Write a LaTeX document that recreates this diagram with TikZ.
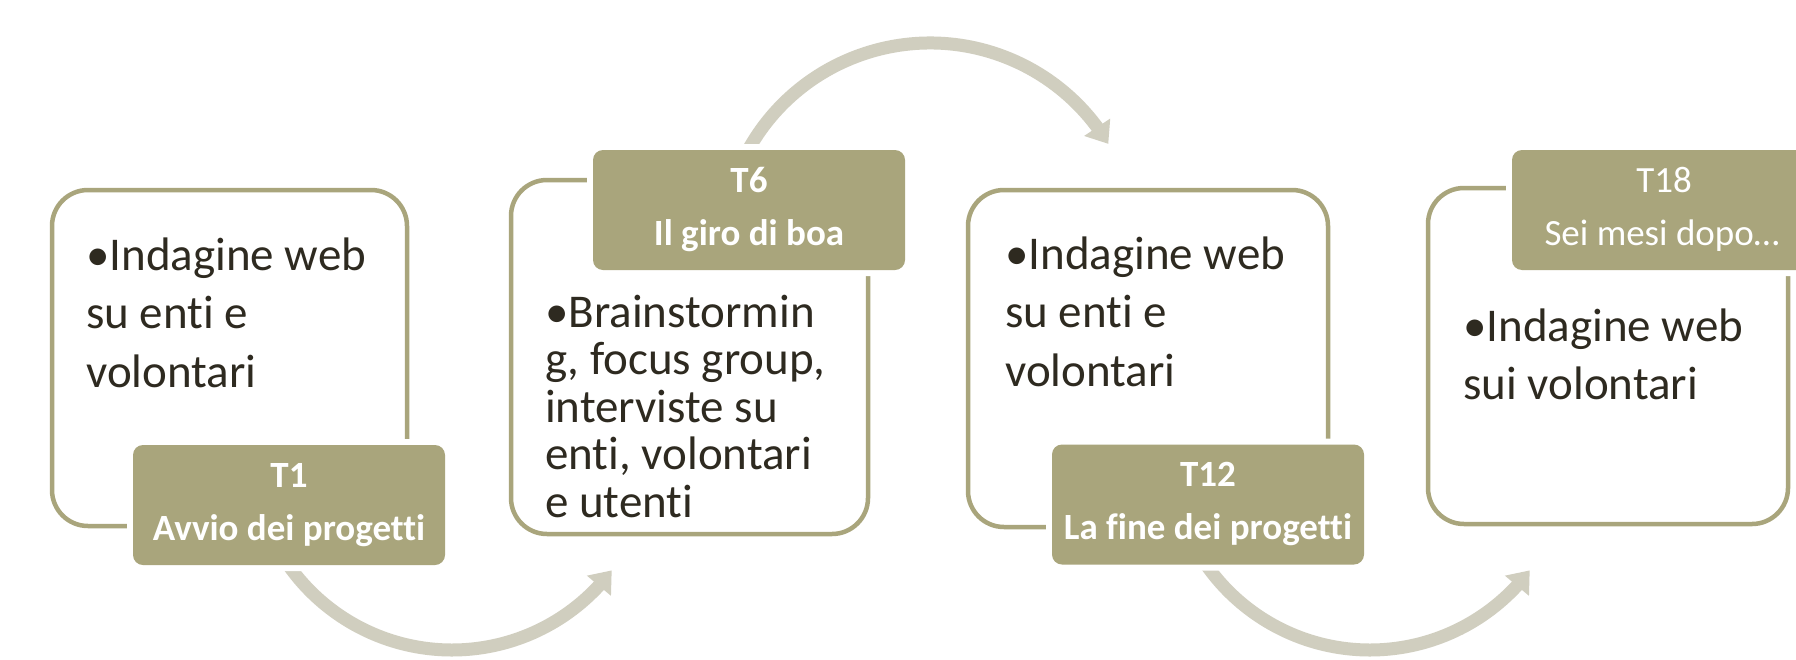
\documentclass[tikz,border=0pt]{standalone}
\usepackage{fontspec}
\setmainfont{Carlito}[Ligatures={NoCommon,NoContextual}]
\usetikzlibrary{arrows.meta,bending}
\definecolor{olive}{RGB}{169,165,124}
\definecolor{arccol}{RGB}{208,206,191}
\definecolor{txt}{RGB}{46,42,32}
\begin{document}
\begin{tikzpicture}[x=1pt,y=1pt,
  bigbox/.style={draw=olive, line width=4.5pt, rounded corners=36pt, inner sep=0pt, outer sep=0pt},
  lbl/.style={fill=olive, rounded corners=10pt, minimum width=312pt, minimum height=120pt,
              inner sep=0pt, outer sep=0pt, preaction={draw=white, line width=12pt}},
  lbltxt/.style={text=white, font=\fontsize{37}{43}\selectfont\bfseries, anchor=base, inner sep=0pt},
  lbltxtr/.style={text=white, font=\fontsize{37}{43}\selectfont, anchor=base, inner sep=0pt},
  body/.style={text=txt, anchor=base west, inner sep=0pt, font=\fontsize{47}{58.5}\selectfont},
  bodytight/.style={text=txt, anchor=base west, inner sep=0pt, font=\fontsize{47}{47.5}\selectfont},
  flow/.style={draw=arccol, line width=13pt, -{Triangle[length=20pt,width=30pt]}}
]
\useasboundingbox (0,0) rectangle (1796,-659);
\clip (0,0) rectangle (1796,-659);
\fill[white] (0,0) rectangle (1796,-659);

% arc centres
\coordinate (c1) at (452,-450);
\coordinate (c2) at (930,-251);
\coordinate (c3) at (1370,-450);

% connectors (drawn first, labels overlap their start)
\draw[flow] ([shift={(-150:200)}]c1) arc[start angle=-150, end angle=-37, radius=200];
\draw[flow] ([shift={(153:208)}]c2) arc[start angle=153, end angle=31, radius=208];
\draw[flow] ([shift={(-150:200)}]c3) arc[start angle=-150, end angle=-37, radius=200];

% boxes
\node[bigbox, minimum width=355pt, minimum height=336pt] (B1) at (229.5,-358) {};
\node[bigbox, minimum width=357pt, minimum height=354pt] (B2) at (689.5,-357) {};
\node[bigbox, minimum width=360pt, minimum height=337pt] (B3) at (1148,-358.5) {};
\node[bigbox, minimum width=360pt, minimum height=336pt] (B4) at (1608,-356) {};

% labels
\node[lbl] (L1) at (289,-505) {};
\node[lbl] (L2) at (749,-210) {};
\node[lbl] (L3) at (1208,-504.5) {};
\node[lbl] (L4) at (1668,-210) {};

\node[lbltxt] (L1a) at ([yshift=-42pt]L1.north) {T1};
\node[lbltxt] (L1b) at ([yshift=-95pt]L1.north) {Avvio dei progetti};
\node[lbltxt] (L2a) at ([yshift=-42pt]L2.north) {T6};
\node[lbltxt] (L2b) at ([yshift=-95pt]L2.north) {Il giro di boa};
\node[lbltxt] (L3a) at ([yshift=-42pt]L3.north) {T12};
\node[lbltxt] (L3b) at ([yshift=-95pt]L3.north) {La fine dei progetti};
\node[lbltxtr] (L4a) at ([xshift=-4pt,yshift=-42pt]L4.north) {T18};
\node[lbltxtr] (L4b) at ([xshift=-6pt,yshift=-95pt]L4.north) {Sei mesi dopo…};

% body texts
\node[body] (T1) at ([xshift=34pt,yshift=-80pt]B1.north west)
  {\parbox[t]{330pt}{\raggedright •Indagine web\\su enti e\\volontari}};
\node[bodytight] (T2) at ([xshift=34pt,yshift=-147pt]B2.north west)
  {\parbox[t]{330pt}{\raggedright •Brainstormin\\g, focus group,\\interviste su\\enti, volontari\\e utenti}};
\node[body] (T3) at ([xshift=37pt,yshift=-79pt]B3.north west)
  {\parbox[t]{330pt}{\raggedright •Indagine web\\su enti e\\volontari}};
\node[body] (T4) at ([xshift=35pt,yshift=-153pt]B4.north west)
  {\parbox[t]{330pt}{\raggedright •Indagine web\\sui volontari}};
\end{tikzpicture}
\end{document}
